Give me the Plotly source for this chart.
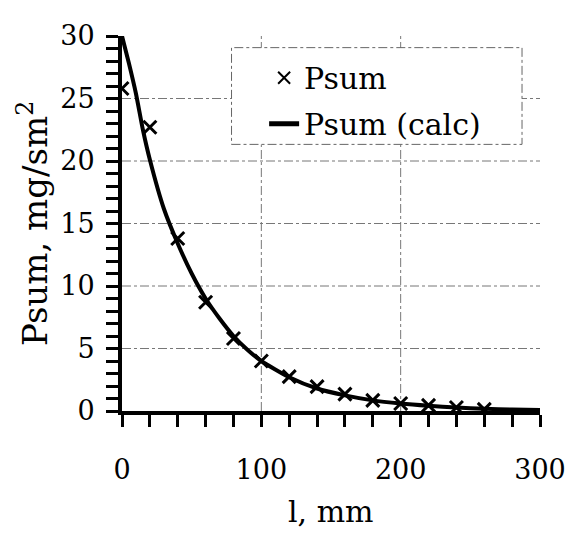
import plotly.graph_objects as go

# Measured data (Psum, mg/sm^2 vs l, mm)
l_meas = [0, 20, 40, 60, 80, 100, 120, 140, 160, 180, 200, 220, 240, 260]
psum_meas = [25.8, 22.7, 13.8, 8.7, 5.8, 4.0, 2.75, 1.95, 1.35, 0.85, 0.6, 0.45, 0.28, 0.13]

# Calculated curve
l_calc = [0, 5, 10, 15, 20, 30, 40, 50, 60, 70, 80, 90, 100, 120, 140, 160, 180, 200, 220, 240, 260, 280, 300]
psum_calc = [30.0, 27.8, 25.4, 22.5, 20.1, 16.2, 13.4, 11.0, 9.0, 7.4, 6.0, 4.9, 4.0, 2.7, 1.8,
             1.25, 0.85, 0.6, 0.42, 0.28, 0.18, 0.12, 0.08]

x_ticks = [0, 100, 200, 300]
y_ticks = [0, 5, 10, 15, 20, 25, 30]
grid_x = [100, 200]
grid_y = [5, 10, 15, 20, 25]

FONT = "DejaVu Serif"

fig = go.Figure()
fig.add_trace(go.Scatter(
    x=l_meas, y=psum_meas, mode="markers", name="Psum", legendgroup="a",
    marker=dict(symbol="x-thin", size=13, color="black", line=dict(color="black", width=3)),
))
fig.add_trace(go.Scatter(
    x=l_calc, y=psum_calc, mode="lines", name="Psum (calc)", legendgroup="b",
    line=dict(color="black", width=4, shape="spline", smoothing=0.6),
))

shapes = []
for gx in grid_x:
    shapes.append(dict(type="line", xref="x", yref="paper", x0=gx, x1=gx, y0=0, y1=1,
                       line=dict(color="#777", width=1, dash="dashdot"), layer="below"))
for gy in grid_y:
    shapes.append(dict(type="line", xref="paper", yref="y", x0=0, x1=1, y0=gy, y1=gy,
                       line=dict(color="#777", width=1, dash="dashdot"), layer="below"))
# legend frame
shapes.append(dict(type="rect", xref="paper", yref="paper", x0=0.262, x1=0.957, y0=0.711, y1=0.969,
                   fillcolor="white", line=dict(color="#666", width=1, dash="dashdot"), layer="above"))

fig.update_layout(
    width=570, height=533,
    margin=dict(l=114, r=33, t=15, b=130),
    paper_bgcolor="white", plot_bgcolor="white",
    font=dict(family=FONT, color="black", size=27),
    showlegend=True,
    legend=dict(x=0.34, y=0.958, xanchor="left", yanchor="top",
                bgcolor="rgba(0,0,0,0)", borderwidth=0,
                font=dict(family=FONT, size=30), tracegroupgap=4,
                traceorder="grouped", itemsizing="constant"),
    shapes=shapes,
    xaxis=dict(range=[0, 300], tickvals=x_ticks, showgrid=False, zeroline=False,
               showline=True, linecolor="black", linewidth=4,
               ticks="outside", ticklen=12, tickwidth=3, tickcolor="black",
               ticklabelstandoff=20, ticklabeloverflow="allow",
               minor=dict(dtick=20, ticks="outside", ticklen=12, tickwidth=3, tickcolor="black", showgrid=False),
               tickfont=dict(family=FONT, size=27)),
    yaxis=dict(range=[0, 30], tickvals=y_ticks, showgrid=False, zeroline=False,
               showline=True, linecolor="black", linewidth=4,
               ticks="outside", ticklen=12, tickwidth=3, tickcolor="black",
               ticklabelstandoff=6, ticklabeloverflow="allow",
               minor=dict(dtick=1, ticks="outside", ticklen=12, tickwidth=3, tickcolor="black", showgrid=False),
               tickfont=dict(family=FONT, size=27)),
    annotations=[
        dict(text="l, mm", xref="paper", yref="paper", x=0.5, y=-0.268, xanchor="center", yanchor="middle",
             showarrow=False, font=dict(family=FONT, size=30)),
        dict(text="Psum, mg/sm<sup>2</sup>", xref="paper", yref="paper", x=-0.214, y=0.5,
             xanchor="center", yanchor="middle", textangle=-90,
             showarrow=False, font=dict(family=FONT, size=34)),
    ],
)

fig.write_html("out.html")
